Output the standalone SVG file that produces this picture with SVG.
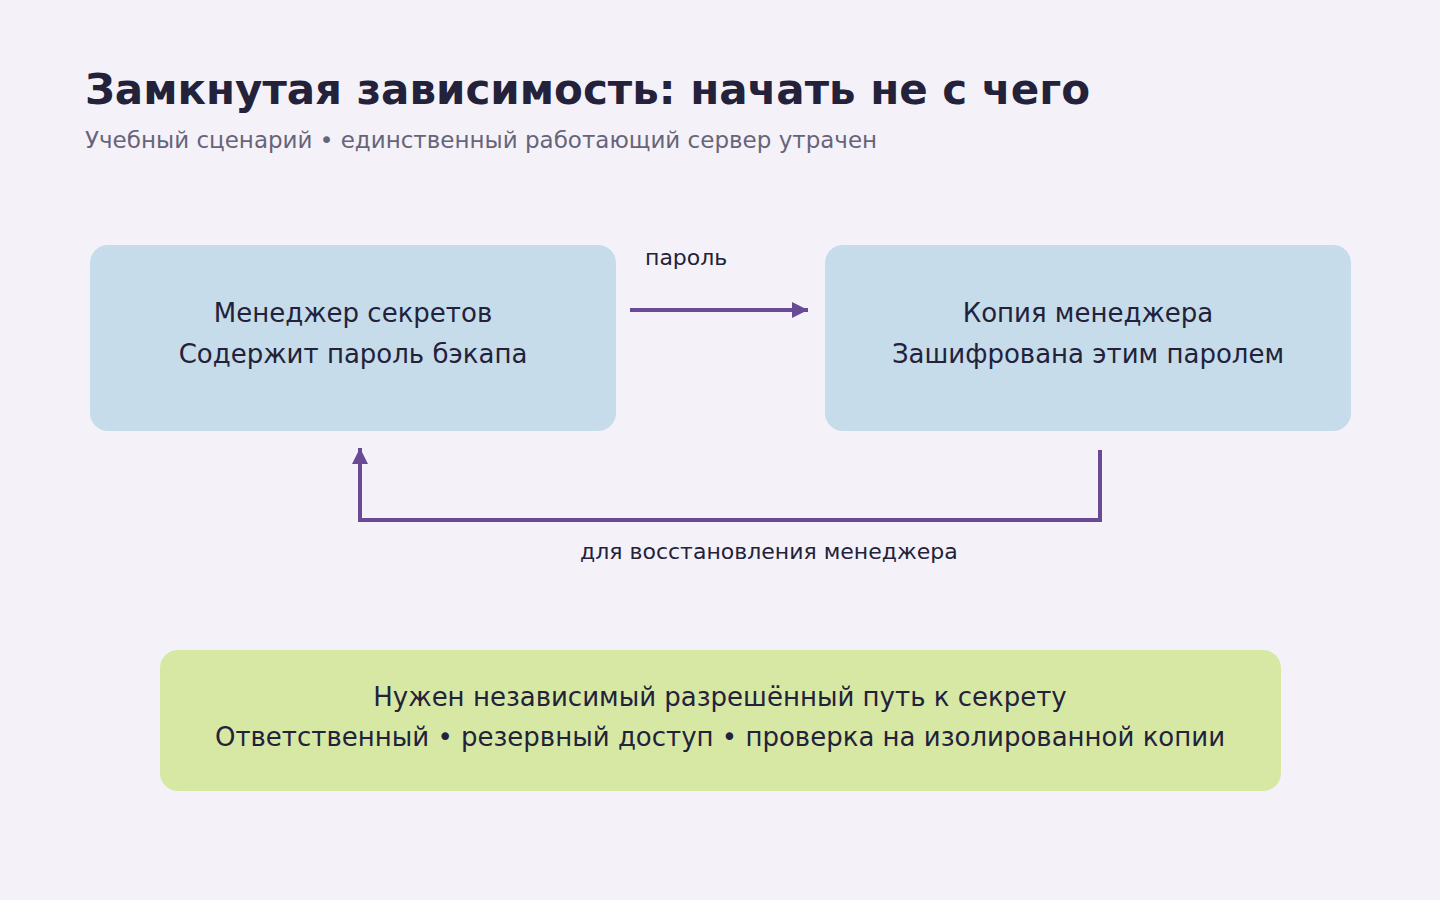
<svg xmlns="http://www.w3.org/2000/svg" width="1440" height="900" viewBox="0 0 1440 900">
<style>
text{font-family:"DejaVu Sans",sans-serif;fill:#23223a}
.n{font-size:26px;text-anchor:middle}
.l{font-size:22px}
.c{stroke:#684b94;stroke-width:4;fill:none}
</style>
<defs><marker id="a" markerWidth="6" markerHeight="6" refX="5" refY="3" orient="auto" markerUnits="userSpaceOnUse" viewBox="0 0 6 6"><path d="M0,0L6,3L0,6z" fill="#684b94"/></marker>
<marker id="ah" viewBox="0 0 10 10" refX="10" refY="5" markerWidth="16" markerHeight="18" markerUnits="userSpaceOnUse" orient="auto"><path d="M0,0L10,5L0,10z" fill="#684b94"/></marker></defs>
<rect width="1440" height="900" fill="#f4f2f8"/>
<text x="85" y="104" style="font-size:42px;font-weight:bold">Замкнутая зависимость: начать не с чего</text>
<text x="85" y="148" style="font-size:23px;fill:#67647a">Учебный сценарий • единственный работающий сервер утрачен</text>
<g id="n1"><rect x="90" y="245" width="526" height="186" rx="18" fill="#c6dcea"/><text class="n" x="353" y="322">Менеджер секретов</text><text class="n" x="353" y="363">Содержит пароль бэкапа</text></g>
<g id="n2"><rect x="825" y="245" width="526" height="186" rx="18" fill="#c6dcea"/><text class="n" x="1088" y="322">Копия менеджера</text><text class="n" x="1088" y="363">Зашифрована этим паролем</text></g>
<g id="n3"><rect x="160" y="650" width="1121" height="141" rx="18" fill="#d7e8a5"/><text class="n" x="720" y="706">Нужен независимый разрешённый путь к секрету</text><text class="n" x="720" y="746">Ответственный • резервный доступ • проверка на изолированной копии</text></g>
<g id="connectors">
<path class="c" d="M630,310H808" marker-end="url(#ah)"/>
<text class="l" x="645" y="265">пароль</text>
<path class="c" d="M1100,450V520H360V448" marker-end="url(#ah)"/>
<text class="l" x="580" y="559">для восстановления менеджера</text>
</g>
</svg>
